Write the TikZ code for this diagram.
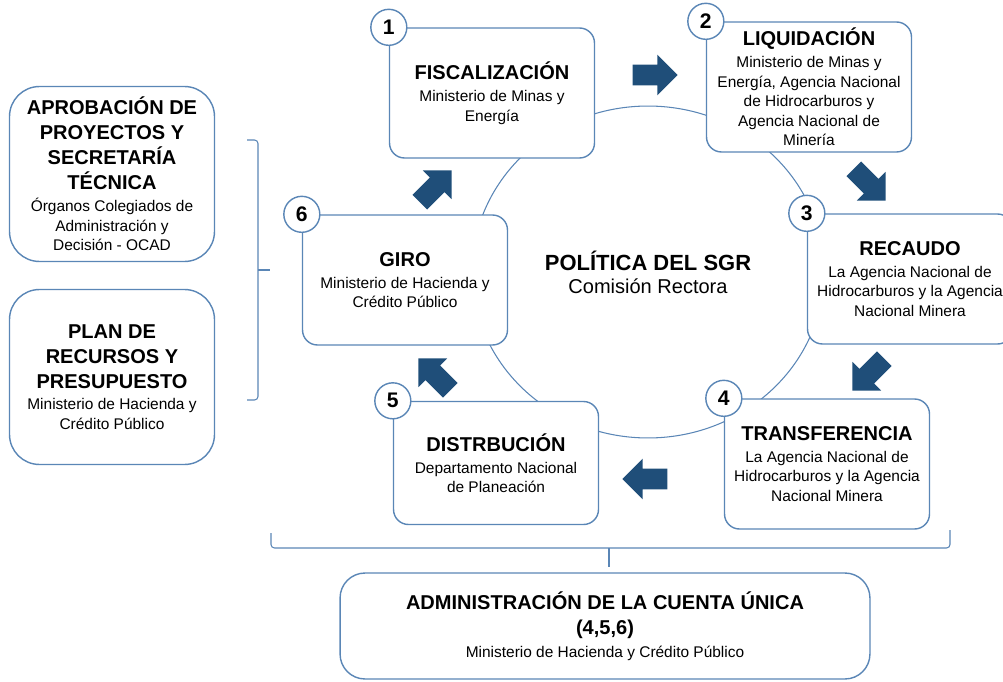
\documentclass[tikz,border=0pt]{standalone}
\usepackage{fontspec}
\setmainfont{Liberation Sans}
\usetikzlibrary{positioning,shapes.arrows}
\definecolor{FrameBlue}{HTML}{5A86B6}
\definecolor{ArrowBlue}{HTML}{1F4E79}
\newcommand{\Ttl}[1]{{\fontsize{11.4}{14}\selectfont\bfseries #1}}

\begin{document}
\begin{tikzpicture}[x=0.02cm,y=-0.02cm,
font=\fontsize{8.8}{11.1}\selectfont,
stage/.style={draw=FrameBlue,line width=0.8pt,fill=white,rounded corners=8.5pt,minimum width=4.1cm,minimum height=2.6cm,align=center,inner sep=2pt},
side/.style={stage,rounded corners=0.6cm,minimum height=3.5cm},
badge/.style={circle,draw=FrameBlue,line width=0.8pt,fill=white,minimum size=0.72cm,inner sep=0pt,font=\fontsize{12}{12}\selectfont\bfseries},
flow/.style={single arrow,fill=ArrowBlue,minimum height=0.9cm,inner sep=0pt,inner ysep=0.2cm,single arrow head extend=0.2cm},
link/.style={draw=FrameBlue,line width=0.6pt}]
\useasboundingbox (0,0) rectangle (1003,682);
% ring behind the stages
\draw[link] (648,272) ellipse [x radius=3.52cm,y radius=3.32cm];
\node[align=center] (sgr) at (648,272) {{\fontsize{12.5}{15}\selectfont\bfseries POLÍTICA DEL SGR}\\[2pt]{\fontsize{11.4}{14}\selectfont Comisión Rectora}};
% stages
\node[stage] (fis) at (492,93) {\Ttl{FISCALIZACIÓN}\\[1.4pt] Ministerio de Minas y\\ Energía};
\node[stage] (liq) at (809,87) {\Ttl{LIQUIDACIÓN}\\[1.4pt] Ministerio de Minas y\\ Energía, Agencia Nacional\\ de Hidrocarburos y\\ Agencia Nacional de\\ Minería};
\node[stage] (rec) at (910,279) {\Ttl{RECAUDO}\\[1.4pt] La Agencia Nacional de\\ Hidrocarburos y la Agencia\\ Nacional Minera};
\node[stage] (tra) at (827,464) {\Ttl{TRANSFERENCIA}\\[1.4pt] La Agencia Nacional de\\ Hidrocarburos y la Agencia\\ Nacional Minera};
\node[stage,minimum height=2.46cm] (dis) at (496,463) {\Ttl{DISTRBUCIÓN}\\[1.4pt] Departamento Nacional\\ de Planeación};
\node[stage] (gir) at (405,280) {\Ttl{GIRO}\\[1.4pt] Ministerio de Hacienda y\\ Crédito Público};
% numbers
\node[badge] (n1) at (fis.north west) {1};
\node[badge] (n2) at (liq.north west) {2};
\node[badge] (n3) at (rec.north west) {3};
\node[badge] (n4) at (tra.north west) {4};
\node[badge] (n5) at (dis.north west) {5};
\node[badge] (n6) at (gir.north west) {6};
% block arrows
\node[flow] (a12) at (650,75) {};
\node[flow,rotate=-45] (a23) at (866,181) {};
\node[flow,rotate=-135] (a34) at (872,371) {};
\node[flow,rotate=180] (a45) at (650,479) {};
\node[flow,rotate=135] (a56) at (438,378) {};
\node[flow,rotate=45] (a61) at (432,190) {};
% left column
\node[side] (apr) at (112,174) {\Ttl{APROBACIÓN DE}\\[3.1pt]\Ttl{PROYECTOS Y}\\[3.1pt]\Ttl{SECRETARÍA}\\[3.1pt]\Ttl{TÉCNICA}\\[1.4pt] Órganos Colegiados de\\ Administración y\\ Decisión - OCAD};
\node[side] (pla) at (112,377) {\Ttl{PLAN DE}\\[3.1pt]\Ttl{RECURSOS Y}\\[3.1pt]\Ttl{PRESUPUESTO}\\[1.4pt] Ministerio de Hacienda y\\ Crédito Público};
\draw[link,rounded corners=2pt] (247,140) -| (258,270) |- (247,400);
\draw[link] (258,270) -- (270,270);
% single account
\node[stage,rounded corners=0.5cm,minimum width=10.6cm,minimum height=2.12cm] (adm) at (605,626) {\Ttl{ADMINISTRACIÓN DE LA CUENTA ÚNICA}\\[3.1pt]\Ttl{(4,5,6)}\\[1.9pt] Ministerio de Hacienda y Crédito Público};
\draw[link,rounded corners=2pt] (271,533) |- (950,548) -- (950,530);
\draw[link] (609,548) -- (609,567);
\end{tikzpicture}
\end{document}
